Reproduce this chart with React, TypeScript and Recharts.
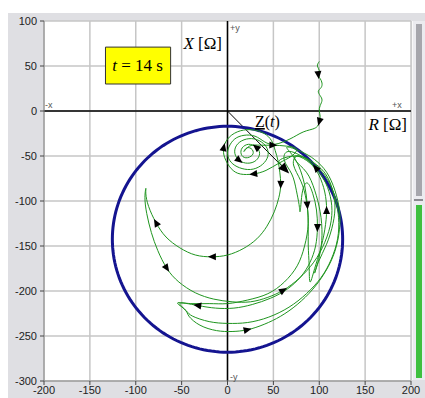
import React from "react";
import { CartesianGrid, ReferenceArea, ReferenceLine, Scatter, ScatterChart, XAxis, YAxis } from "recharts";

// axis ticks
const R_TICKS = [-200, -150, -100, -50, 0, 50, 100, 150, 200];
const X_TICKS = [-300, -250, -200, -150, -100, -50, 0, 50, 100];

// relay circle (centre R, X and radius in ohms)
const CIRCLE_CENTER = [0, -142.5];
const CIRCLE_RADIUS = 125.5;

// impedance trajectory Z(t) = R + jX, in pieces
const ENTRY = [
  [100, 55], [98, 50], [100, 45], [99, 40], [101, 36], [103, 31], [102, 26], [99, 22], [101, 17], [103, 12],
  [101, 6], [100, 0], [101, -6], [100, -12], [98, -17], [93, -20], [86, -22], [79, -25], [72, -29], [64, -33],
  [56, -36], [48, -37],
];
const SPIRAL = [
  [40, -34], [30, -28], [18, -27], [8, -31], [2, -39], [0, -48], [4, -57], [13, -63], [25, -65], [36, -61],
  [43, -53], [44, -44], [39, -36], [29, -31], [18, -32], [10, -38], [8, -47], [13, -55], [22, -58], [31, -55],
  [35, -47], [31, -40], [23, -37], [16, -41], [15, -48], [20, -52], [27, -49], [27, -43], [21, -41], [18, -45],
  [24, -39], [36, -38], [50, -38], [64, -39], [75, -42], [70, -50], [56, -58], [42, -66], [28, -70], [14, -70],
  [4, -64], [-3, -52], [-4, -40], [2, -29], [14, -22], [28, -21], [40, -25], [48, -33], [52, -44], [55, -55],
];
const LEFT_LOOP = [
  [57, -68], [58, -82], [56, -96], [51, -112], [43, -128], [32, -142], [17, -153], [0, -160], [-17, -162],
  [-35, -160], [-52, -152], [-67, -140], [-78, -124], [-86, -106], [-89, -92], [-89, -86], [-90, -96],
  [-88, -114], [-83, -135], [-76, -155], [-66, -175], [-53, -190], [-35, -202], [-15, -209], [5, -212],
  [25, -212], [44, -207], [61, -199], [78, -186], [94, -168], [106, -146], [113, -122], [113, -100], [107, -80],
  [96, -63], [82, -51], [66, -45],
];
const LOWER_LOOP = [
  [62, -55], [70, -70], [75, -88], [78, -104], [79, -112], [80, -104], [82, -88], [87, -80], [93, -92],
  [97, -110], [98, -130], [96, -150], [90, -168], [80, -184], [65, -198], [47, -208], [27, -215], [7, -219],
  [-13, -219], [-33, -216], [-54, -213], [-47, -220], [-42, -228], [-30, -238], [-12, -244], [5, -245],
  [22, -243], [40, -237], [58, -228], [76, -215], [93, -198], [107, -178], [117, -156], [122, -132],
  [122, -110], [117, -88], [108, -68], [95, -54], [80, -45], [65, -40],
];
const V_LOOP = [
  [70, -48], [78, -62], [84, -82], [87, -105], [88, -128], [88, -150], [89, -172], [90, -190], [95, -175],
  [101, -155], [106, -132], [108, -110], [106, -90], [100, -72], [90, -58], [76, -50],
];
const MID_LOOP = [
  [74, -55], [86, -68], [95, -88], [101, -112], [103, -138], [100, -162], [95, -180], [99, -168], [108, -148],
  [115, -125], [117, -102], [112, -80], [102, -64], [88, -54], [76, -50],
];
const LAST_LOOP = [
  [72, -60], [80, -78], [86, -100], [88, -125], [84, -150], [76, -172], [62, -190], [44, -203], [22, -210],
  [0, -214], [-20, -214], [-40, -214], [-52, -214], [-45, -222], [-38, -228], [-20, -234], [0, -236],
  [22, -235], [45, -229], [67, -218], [86, -203], [102, -185], [113, -165], [120, -142], [121, -118],
  [117, -95], [109, -76], [98, -62], [85, -52], [72, -50], [62, -52], [56, -56], [60, -61], [63, -65],
];

// where the direction arrows sit on the trajectory
const ARROW_AT = [
  [100, 40], [100, -12], [-3, -40], [25, -70], [50, -38], [13, -55], [31, -40], [58, -82], [87, -105],
  [98, -130], [108, -110], [96, -63], [-17, -162], [-78, -124], [-66, -175], [61, -199], [-33, -216],
  [30, -240],
];

// current impedance at t = 14 s
const Z_NOW = [63, -65];

const W = 425;
const H = 398;
const MARGIN = { top: 21, right: 14, bottom: 3, left: 8 };
const Y_AXIS_W = 36;
const X_AXIS_H = 14;
const PLOT_W = W - MARGIN.left - MARGIN.right - Y_AXIS_W;
const PLOT_H = H - MARGIN.top - MARGIN.bottom - X_AXIS_H;
const PX_R = PLOT_W / 400;
const PX_X = PLOT_H / 400;

const toPts = (arr: number[][]) => arr.map(([r, x]) => ({ r, x }));

const trajectory = toPts([...ENTRY, ...SPIRAL, ...LEFT_LOOP, ...LOWER_LOOP, ...V_LOOP, ...MID_LOOP, ...LAST_LOOP]);

const circle = Array.from({ length: 181 }, (_, i) => {
  const a = (i / 180) * 2 * Math.PI;
  return { r: CIRCLE_CENTER[0] + CIRCLE_RADIUS * Math.cos(a), x: CIRCLE_CENTER[1] + CIRCLE_RADIUS * Math.sin(a) };
});

// each arrow takes its heading from the nearest vertex of the trajectory
const arrows = ARROW_AT.map(([r, x]) => {
  let best = 1;
  let bestD = Infinity;
  for (let i = 1; i < trajectory.length - 1; i++) {
    const d = (trajectory[i].r - r) ** 2 + (trajectory[i].x - x) ** 2;
    if (d < bestD) {
      bestD = d;
      best = i;
    }
  }
  const a = trajectory[best - 1];
  const b = trajectory[best + 1];
  return { r: trajectory[best].r, x: trajectory[best].x, ang: Math.atan2(-(b.x - a.x) * PX_X, (b.r - a.r) * PX_R) };
});

const zHead = [{ r: Z_NOW[0], x: Z_NOW[1], ang: Math.atan2(-Z_NOW[1] * PX_X, Z_NOW[0] * PX_R) }];

const noDot = () => <g />;

const arrowShape = (len: number, half: number) => (props: any) => {
  const { cx, cy, payload } = props;
  const deg = (payload.ang * 180) / Math.PI;
  return (
    <path
      d={`M${len / 2},0 L${-len / 2},${-half} L${-len / 2},${half} Z`}
      fill="#000"
      transform={`translate(${cx},${cy}) rotate(${deg})`}
    />
  );
};

const tickStyle = { fontSize: 11, fill: "#222", fontFamily: "Liberation Sans, Arial, sans-serif" };
const serif = "Liberation Serif, Times New Roman, serif";
const small = { fontSize: 9, fill: "#555", fontFamily: "Liberation Sans, Arial, sans-serif" };

export default function App() {
  return (
    <div style={{ position: "fixed", left: 0, top: 0, width: W, height: H, background: "#fff", overflow: "hidden" }}>
      <div style={{ position: "absolute", left: 8, top: 13, width: W - 8, height: H - 13, background: "#dfdfe3" }} />
      <div style={{ position: "absolute", left: 0, top: 0 }}>
        <ScatterChart width={W} height={H} margin={MARGIN}>
          <CartesianGrid stroke="#c6c6c6" strokeWidth={1.5} fill="#fff" fillOpacity={1} />
          <XAxis
            type="number"
            dataKey="r"
            domain={[-200, 200]}
            ticks={R_TICKS}
            height={X_AXIS_H}
            tick={tickStyle}
            tickSize={4}
            tickMargin={1}
            axisLine={{ stroke: "#888" }}
            tickLine={{ stroke: "#444" }}
            allowDataOverflow
          />
          <YAxis
            type="number"
            dataKey="x"
            domain={[-300, 100]}
            ticks={X_TICKS}
            width={Y_AXIS_W}
            tick={tickStyle}
            tickSize={4}
            tickMargin={3}
            axisLine={{ stroke: "#888" }}
            tickLine={{ stroke: "#444" }}
            allowDataOverflow
          />
          <ReferenceLine x={0} stroke="#000" strokeWidth={1.5} />
          <ReferenceLine y={0} stroke="#000" strokeWidth={1.5} />
          <ReferenceArea x1={-133} x2={-62} y1={30} y2={71} fill="#ffff00" fillOpacity={1} stroke="#333" strokeWidth={1} />
          <Scatter data={circle} line={{ stroke: "#141490", strokeWidth: 3 }} shape={noDot} isAnimationActive={false} />
          <Scatter
            data={trajectory}
            line={{ stroke: "#1f951f", strokeWidth: 1 }}
            lineJointType="natural"
            shape={noDot}
            isAnimationActive={false}
          />
          <Scatter data={arrows} shape={arrowShape(8, 3.5)} isAnimationActive={false} />
          <ReferenceLine segment={[{ x: 0, y: 0 }, { x: Z_NOW[0], y: Z_NOW[1] }]} stroke="#000" strokeWidth={1} />
          <Scatter data={zHead} shape={arrowShape(11, 4.5)} isAnimationActive={false} />
        </ScatterChart>
      </div>
      <div style={{ position: "absolute", left: 412, top: 21, width: 12, height: 359, background: "#ebebef", borderLeft: "1px solid #f8f8f8" }} />
      <div style={{ position: "absolute", left: 416, top: 24, width: 6, height: 172, background: "#a6a6ac" }} />
      <div style={{ position: "absolute", left: 414, top: 199, width: 9, height: 2, background: "#8a8a90" }} />
      <div style={{ position: "absolute", left: 416, top: 205, width: 6, height: 173, background: "#3fc03f" }} />
      <svg width={W} height={H} style={{ position: "absolute", left: 0, top: 0, pointerEvents: "none" }}>
        <text x={45} y={108} {...small}>-x</text>
        <text x={392} y={108} {...small}>+x</text>
        <text x={230} y={31} {...small}>+y</text>
        <text x={230} y={380} {...small}>-y</text>
        <text x={222} y={49} textAnchor="end" fontSize={17} fontFamily={serif} fill="#000">
          <tspan fontStyle="italic">X</tspan> [Ω]
        </text>
        <text x={407} y={130} textAnchor="end" fontSize={17} fontFamily={serif} fill="#000">
          <tspan fontStyle="italic">R</tspan> [Ω]
        </text>
        <text x={255} y={127} fontSize={16} fontFamily={serif} fill="#000">
          <tspan textDecoration="underline">Z</tspan>(<tspan fontStyle="italic">t</tspan>)
        </text>
        <text x={137.5} y={71} textAnchor="middle" fontSize={17} fontFamily={serif} fill="#000">
          <tspan fontStyle="italic">t</tspan> = 14 s
        </text>
      </svg>
    </div>
  );
}
